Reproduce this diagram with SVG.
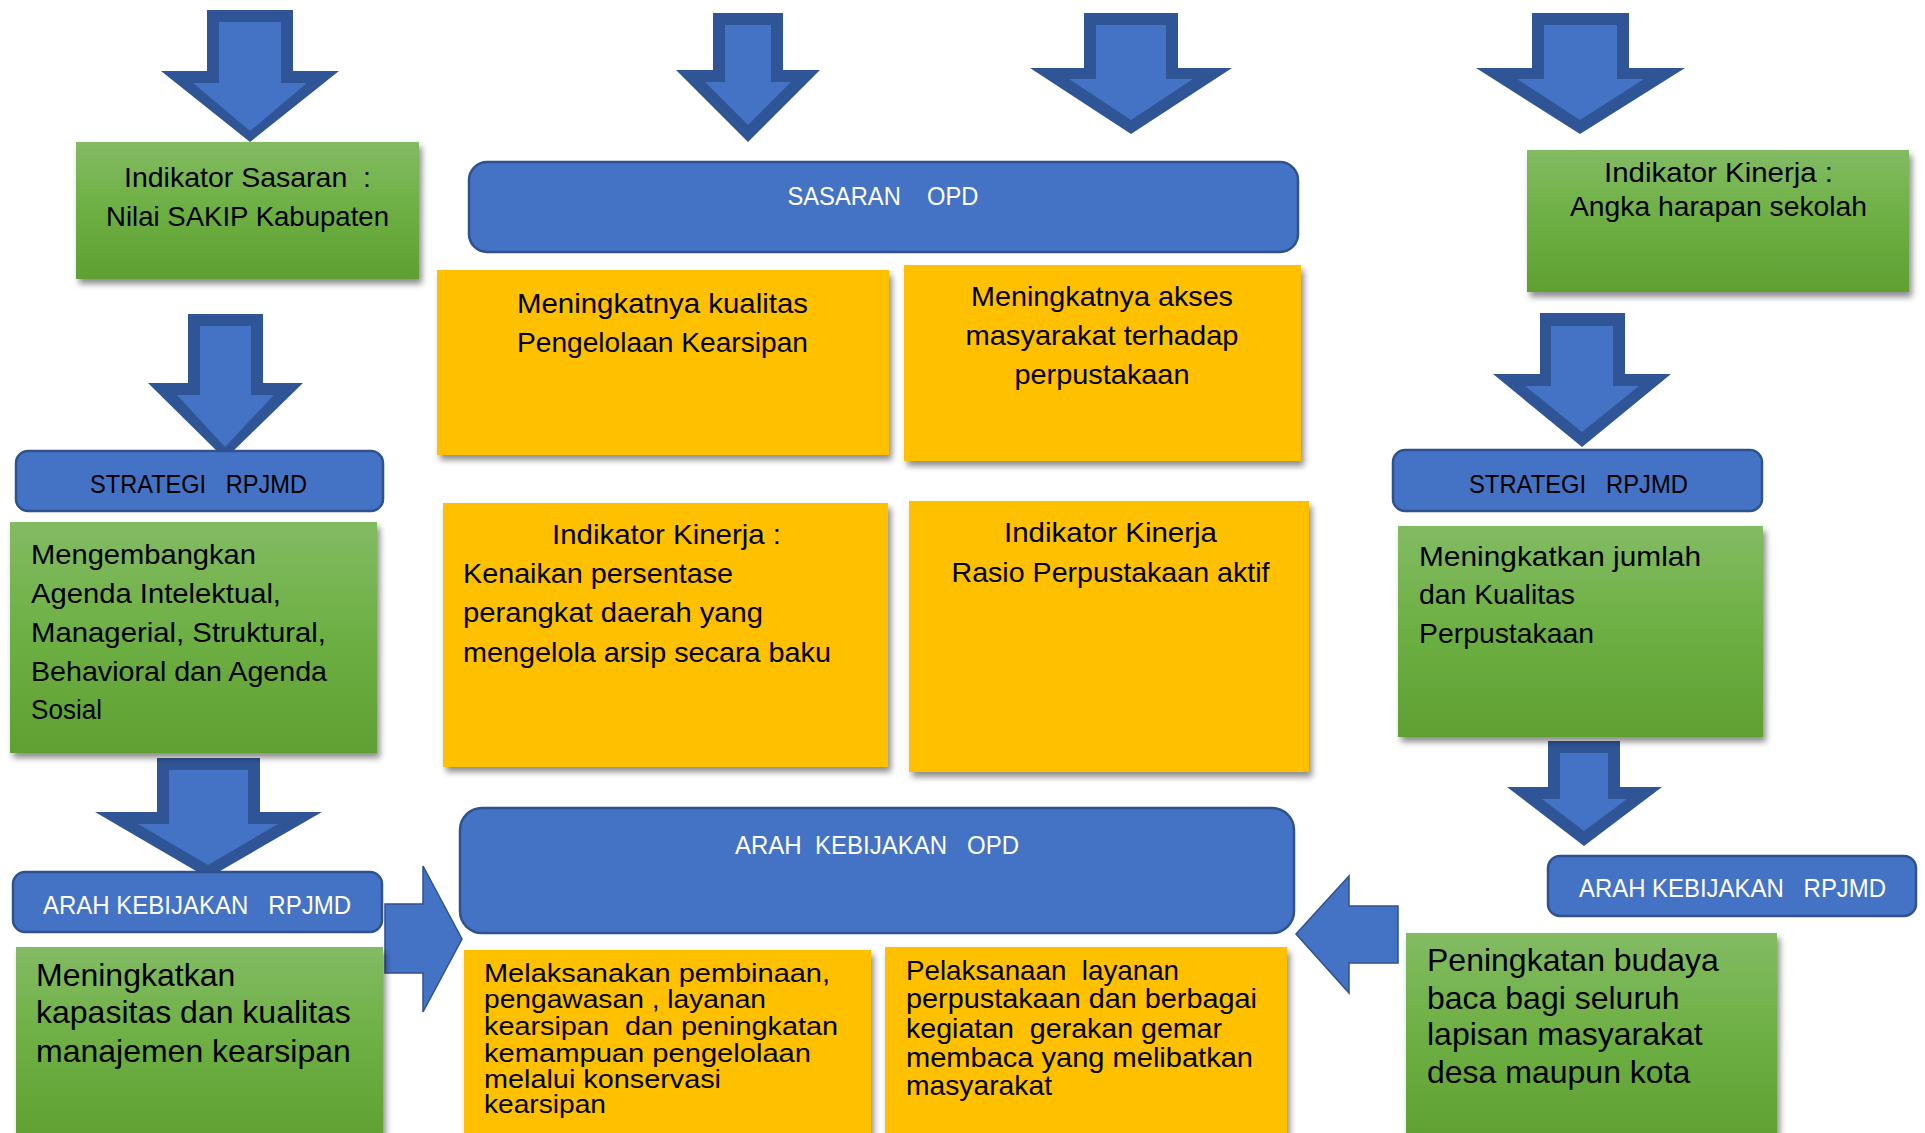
<svg xmlns="http://www.w3.org/2000/svg" width="1925" height="1133" viewBox="0 0 1925 1133">
<defs>
<linearGradient id="gr" x1="0" y1="0" x2="0" y2="1">
<stop offset="0" stop-color="#83BB63"/>
<stop offset="0.5" stop-color="#6DAF43"/>
<stop offset="1" stop-color="#60A032"/>
</linearGradient>
<filter id="sh" x="-5%" y="-5%" width="115%" height="120%">
<feGaussianBlur in="SourceAlpha" stdDeviation="3"/>
<feOffset dx="3" dy="5" result="o"/>
<feComponentTransfer><feFuncA type="linear" slope="0.45"/></feComponentTransfer>
<feMerge><feMergeNode/><feMergeNode in="SourceGraphic"/></feMerge>
</filter>
<style>
.g{fill:url(#gr);filter:url(#sh)}
.o{fill:#FFC000;filter:url(#sh)}
.b{fill:#4472C4;stroke:#2F528F;stroke-width:2.5}
.ao{fill:#2F5597}
.ai{fill:#4472C4}
.ab{fill:#4472C4;stroke:#2F528F;stroke-width:1.5}
text{font-family:"Liberation Sans",Arial,sans-serif;font-size:28px;fill:#000;white-space:pre}
.m{text-anchor:middle}
.w{fill:#fff}
.s{font-size:25px}
.a{font-size:32px}
.t{font-size:25px}
</style>
</defs>
<rect width="1925" height="1133" fill="#fff"/>

<g id="connectors">
<polygon class="ao" points="207,10 293,10 293,71 339,71 250,142 161,71 207,71"/>
<polygon class="ai" points="219,22 281,22 281,83 307,83 250,131 193,83 219,83"/>
<polygon class="ao" points="713,13 783,13 783,70 820,70 748,142 676,70 713,70"/>
<polygon class="ai" points="725,25 771,25 771,82 791,82 748,125 705,82 725,82"/>
<polygon class="ao" points="1084,13 1178,13 1178,68 1232,68 1131,134 1030,68 1084,68"/>
<polygon class="ai" points="1096,25 1166,25 1166,79 1193,79 1131,120 1069,79 1096,79"/>
<polygon class="ao" points="1532,13 1629,13 1629,68 1685,68 1580,134 1476,68 1532,68"/>
<polygon class="ai" points="1544,25 1617,25 1617,79 1644,79 1580,120 1517,79 1544,79"/>
<polygon class="ao" points="188,314 263,314 263,383 303,383 225,459 148,383 188,383"/>
<polygon class="ai" points="200,326 251,326 251,395 274,395 225,447 177,395 200,395"/>
<polygon class="ao" points="157,758 260,758 260,812 322,812 208,878 95,812 157,812"/>
<polygon class="ai" points="169,770 248,770 248,824 278,824 208,865 138,824 169,824"/>
<polygon class="ao" points="1540,313 1625,313 1625,374 1671,374 1582,447 1493,374 1540,374"/>
<polygon class="ai" points="1551,326 1613,326 1613,386 1639,386 1582,432 1525,386 1551,386"/>
<polygon class="ao" points="1548,741 1620,741 1620,787 1662,787 1584,846 1507,787 1548,787"/>
<polygon class="ai" points="1560,753 1608,753 1608,799 1627,799 1584,831 1542,799 1560,799"/>
<polygon class="ab" points="385,904 423,904 423,866 462,939 423,1012 423,973 385,973"/>
<polygon class="ab" points="1398,906 1349,906 1349,876 1296,934 1349,993 1349,963 1398,963"/>
</g>

<g id="indikator-sasaran">
<rect class="g" x="76" y="142" width="343" height="137"/>
<text class="m" x="247.5" y="187" textLength="247" lengthAdjust="spacingAndGlyphs">Indikator Sasaran  :</text>
<text class="m" x="247.5" y="226" textLength="283" lengthAdjust="spacingAndGlyphs">Nilai SAKIP Kabupaten</text>
</g>

<g id="indikator-kinerja-kanan">
<rect class="g" x="1527" y="150" width="382" height="142"/>
<text class="m" x="1718.5" y="182" textLength="229" lengthAdjust="spacingAndGlyphs">Indikator Kinerja :</text>
<text class="m" x="1718.5" y="216" textLength="297" lengthAdjust="spacingAndGlyphs">Angka harapan sekolah</text>
</g>

<g id="sasaran-opd">
<rect class="b" x="469" y="162" width="829" height="90" rx="18"/>
<text class="m w s" x="883" y="205" textLength="191" lengthAdjust="spacingAndGlyphs">SASARAN    OPD</text>
</g>

<g id="sasaran-1">
<rect class="o" x="437" y="270" width="452" height="185"/>
<text class="m" x="662.5" y="313" textLength="291" lengthAdjust="spacingAndGlyphs">Meningkatnya kualitas</text>
<text class="m" x="662.5" y="352" textLength="291" lengthAdjust="spacingAndGlyphs">Pengelolaan Kearsipan</text>
</g>

<g id="sasaran-2">
<rect class="o" x="904" y="265" width="397" height="196"/>
<text class="m" x="1102" y="306" textLength="262" lengthAdjust="spacingAndGlyphs">Meningkatnya akses</text>
<text class="m" x="1102" y="345" textLength="273" lengthAdjust="spacingAndGlyphs">masyarakat terhadap</text>
<text class="m" x="1102" y="384" textLength="175" lengthAdjust="spacingAndGlyphs">perpustakaan</text>
</g>

<g id="indikator-kinerja-1">
<rect class="o" x="443" y="503" width="445" height="264"/>
<text class="m" x="666.5" y="544" textLength="229" lengthAdjust="spacingAndGlyphs">Indikator Kinerja :</text>
<text x="463" y="583" textLength="270" lengthAdjust="spacingAndGlyphs">Kenaikan persentase</text>
<text x="463" y="622" textLength="300" lengthAdjust="spacingAndGlyphs">perangkat daerah yang</text>
<text x="463" y="662" textLength="368" lengthAdjust="spacingAndGlyphs">mengelola arsip secara baku</text>
</g>

<g id="indikator-kinerja-2">
<rect class="o" x="909" y="501" width="400" height="271"/>
<text class="m" x="1110.5" y="542" textLength="213" lengthAdjust="spacingAndGlyphs">Indikator Kinerja</text>
<text class="m" x="1110.5" y="582" textLength="318" lengthAdjust="spacingAndGlyphs">Rasio Perpustakaan aktif</text>
</g>

<g id="strategi-kiri">
<rect class="b" x="16" y="451" width="367" height="60" rx="12"/>
<text class="m s" x="198.5" y="493" textLength="217" lengthAdjust="spacingAndGlyphs">STRATEGI   RPJMD</text>
</g>

<g id="strategi-kiri-isi">
<rect class="g" x="10" y="522" width="367" height="231"/>
<text x="31" y="564" textLength="225" lengthAdjust="spacingAndGlyphs">Mengembangkan</text>
<text x="31" y="603" textLength="250" lengthAdjust="spacingAndGlyphs">Agenda Intelektual,</text>
<text x="31" y="642" textLength="295" lengthAdjust="spacingAndGlyphs">Managerial, Struktural,</text>
<text x="31" y="681" textLength="296" lengthAdjust="spacingAndGlyphs">Behavioral dan Agenda</text>
<text x="31" y="719" textLength="71" lengthAdjust="spacingAndGlyphs">Sosial</text>
</g>

<g id="arah-kiri">
<rect class="b" x="13" y="872" width="369" height="60" rx="12"/>
<text class="m w s" x="197" y="914" textLength="308" lengthAdjust="spacingAndGlyphs">ARAH KEBIJAKAN   RPJMD</text>
</g>

<g id="arah-kiri-isi">
<rect class="g" x="16" y="947" width="367" height="195"/>
<text class="a" x="36" y="986">Meningkatkan</text>
<text class="a" x="36" y="1023">kapasitas dan kualitas</text>
<text class="a" x="36" y="1062">manajemen kearsipan</text>
</g>

<g id="arah-opd">
<rect class="b" x="460" y="808" width="834" height="125" rx="22"/>
<text class="m w s" x="877" y="854" textLength="284" lengthAdjust="spacingAndGlyphs">ARAH  KEBIJAKAN   OPD</text>
</g>

<g id="arah-opd-1">
<rect class="o" x="464" y="950" width="407" height="192"/>
<text class="t" x="484" y="982" textLength="346" lengthAdjust="spacingAndGlyphs">Melaksanakan pembinaan,</text>
<text class="t" x="484" y="1008" textLength="282" lengthAdjust="spacingAndGlyphs">pengawasan , layanan</text>
<text class="t" x="484" y="1035" textLength="354" lengthAdjust="spacingAndGlyphs">kearsipan  dan peningkatan</text>
<text class="t" x="484" y="1062" textLength="327" lengthAdjust="spacingAndGlyphs">kemampuan pengelolaan</text>
<text class="t" x="484" y="1088" textLength="237" lengthAdjust="spacingAndGlyphs">melalui konservasi</text>
<text class="t" x="484" y="1113" textLength="122" lengthAdjust="spacingAndGlyphs">kearsipan</text>
</g>

<g id="arah-opd-2">
<rect class="o" x="885" y="947" width="402" height="195"/>
<text x="906" y="980" textLength="273" lengthAdjust="spacingAndGlyphs">Pelaksanaan  layanan</text>
<text x="906" y="1008" textLength="351" lengthAdjust="spacingAndGlyphs">perpustakaan dan berbagai</text>
<text x="906" y="1038" textLength="316" lengthAdjust="spacingAndGlyphs">kegiatan  gerakan gemar</text>
<text x="906" y="1067" textLength="347" lengthAdjust="spacingAndGlyphs">membaca yang melibatkan</text>
<text x="906" y="1095" textLength="146" lengthAdjust="spacingAndGlyphs">masyarakat</text>
</g>

<g id="strategi-kanan">
<rect class="b" x="1393" y="450" width="369" height="61" rx="12"/>
<text class="m s" x="1578.5" y="493" textLength="219" lengthAdjust="spacingAndGlyphs">STRATEGI   RPJMD</text>
</g>

<g id="strategi-kanan-isi">
<rect class="g" x="1398" y="526" width="365" height="211"/>
<text x="1419" y="566" textLength="282" lengthAdjust="spacingAndGlyphs">Meningkatkan jumlah</text>
<text x="1419" y="604" textLength="156" lengthAdjust="spacingAndGlyphs">dan Kualitas</text>
<text x="1419" y="643" textLength="175" lengthAdjust="spacingAndGlyphs">Perpustakaan</text>
</g>

<g id="arah-kanan">
<rect class="b" x="1548" y="856" width="368" height="60" rx="12"/>
<text class="m w s" x="1732.5" y="897" textLength="307" lengthAdjust="spacingAndGlyphs">ARAH KEBIJAKAN   RPJMD</text>
</g>

<g id="arah-kanan-isi">
<rect class="g" x="1406" y="933" width="371" height="209"/>
<text class="a" x="1427" y="971">Peningkatan budaya</text>
<text class="a" x="1427" y="1009">baca bagi seluruh</text>
<text class="a" x="1427" y="1045">lapisan masyarakat</text>
<text class="a" x="1427" y="1083">desa maupun kota</text>
</g>
</svg>
